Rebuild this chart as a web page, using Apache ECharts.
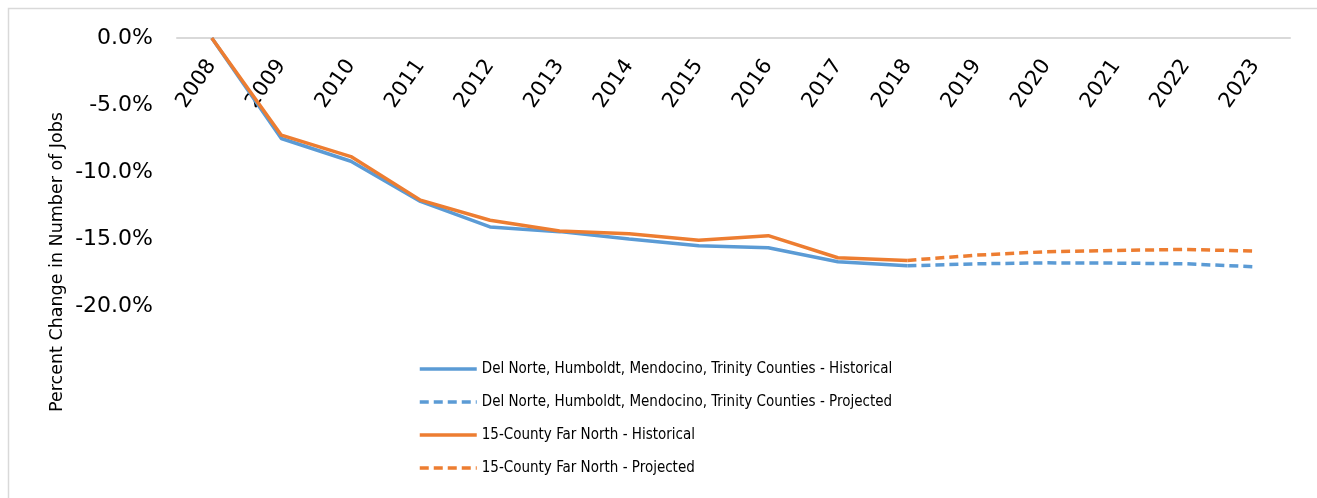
<!DOCTYPE html>
<html>
<head>
<meta charset="utf-8">
<script src="https://cdn.jsdelivr.net/npm/echarts@6/dist/echarts.min.js"></script>
<style>
  html, body { margin: 0; padding: 0; background: #fff; }
  #chart { width: 1317px; height: 498px; }
</style>
</head>
<body>
<div id="chart"></div>
<script>
// years on the x axis
const years = ['2008','2009','2010','2011','2012','2013','2014','2015','2016','2017','2018','2019','2020','2021','2022','2023'];

// percent change in jobs since 2008
const northHist = [0, -7.5, -9.2, -12.2, -14.1, -14.45, -15.0, -15.5, -15.65, -16.7, -17.0];
const northProj = [-16.85, -16.78, -16.8, -16.85, -17.08];
const farNorthHist = [0, -7.25, -8.85, -12.1, -13.6, -14.4, -14.6, -15.1, -14.75, -16.4, -16.6];
const farNorthProj = [-16.2, -15.95, -15.85, -15.78, -15.9];

const yTicks = [0, -5, -10, -15, -20];

const names = [
  'Del Norte, Humboldt, Mendocino, Trinity Counties - Historical',
  'Del Norte, Humboldt, Mendocino, Trinity Counties - Projected',
  '15-County Far North - Historical',
  '15-County Far North - Projected'
];

const blue = '#5B9BD5';
const orange = '#ED7D31';

// historical runs 2008-2018, projected starts at 2018 so they join
function histData(h) {
  return years.map((y, i) => i < h.length ? h[i] : null);
}
function projData(h, p) {
  const start = h.length - 1;
  return years.map((y, i) => {
    if (i < start) return null;
    if (i === start) return h[start];
    return p[i - start - 1];
  });
}

function lineSeries(name, data, color, dashed) {
  return {
    name: name,
    type: 'line',
    data: data,
    symbol: 'none',
    lineStyle: { color: color, width: 3.5, type: dashed ? [9, 5] : 'solid' },
    itemStyle: { color: color },
    animation: false
  };
}

var myChart = echarts.init(document.getElementById('chart'));
const font = '"DejaVu Sans", sans-serif';
const gridTop = 38, gridBottom = 192;
const plotH = 498 - gridTop - gridBottom;

const option = {
  backgroundColor: '#fff',
  graphic: [
    {
      type: 'rect',
      shape: { x: 8.5, y: 8.5, width: 1330, height: 520 },
      style: { fill: 'none', stroke: '#d9d9d9', lineWidth: 1.5 },
      silent: true
    },
    {
      type: 'text',
      x: 57,
      y: 262,
      rotation: Math.PI / 2,
      style: {
        text: 'Percent Change in Number of Jobs',
        font: '17.5px "DejaVu Sans", sans-serif',
        fill: '#000',
        align: 'center',
        verticalAlign: 'middle'
      }
    }
  ],
  grid: { left: 177, right: 27, top: gridTop, bottom: gridBottom },
  legend: {
    orient: 'vertical',
    left: 413,
    top: 356,
    itemWidth: 57,
    itemHeight: 14,
    itemGap: 17,
    itemStyle: { opacity: 0 },
    lineStyle: { width: 3.5 },
    textStyle: { fontFamily: '"Liberation Sans Narrow", "DejaVu Sans Condensed", "Liberation Sans", sans-serif', fontSize: 15, lineHeight: 16, color: '#000' },
    data: names
  },
  xAxis: {
    type: 'category',
    data: years,
    boundaryGap: true,
    position: 'bottom',
    offset: -plotH,
    axisLine: { onZero: false, lineStyle: { color: '#d9d9d9', width: 2 } },
    axisTick: { show: false },
    axisLabel: { rotate: 55, margin: 24, fontFamily: font, fontSize: 21, color: '#000', interval: 0 }
  },
  yAxis: {
    type: 'value',
    min: -20,
    max: 0,
    interval: 5,
    splitLine: { show: false },
    axisLine: { show: false },
    axisTick: { show: false },
    axisLabel: {
      margin: 24,
      fontFamily: font,
      fontSize: 22,
      color: '#000',
      formatter: v => yTicks.includes(v) ? v.toFixed(1) + '%' : ''
    }
  },
  series: [
    lineSeries(names[0], histData(northHist), blue, false),
    lineSeries(names[1], projData(northHist, northProj), blue, true),
    lineSeries(names[2], histData(farNorthHist), orange, false),
    lineSeries(names[3], projData(farNorthHist, farNorthProj), orange, true)
  ]
};

myChart.setOption(option);
</script>
</body>
</html>
